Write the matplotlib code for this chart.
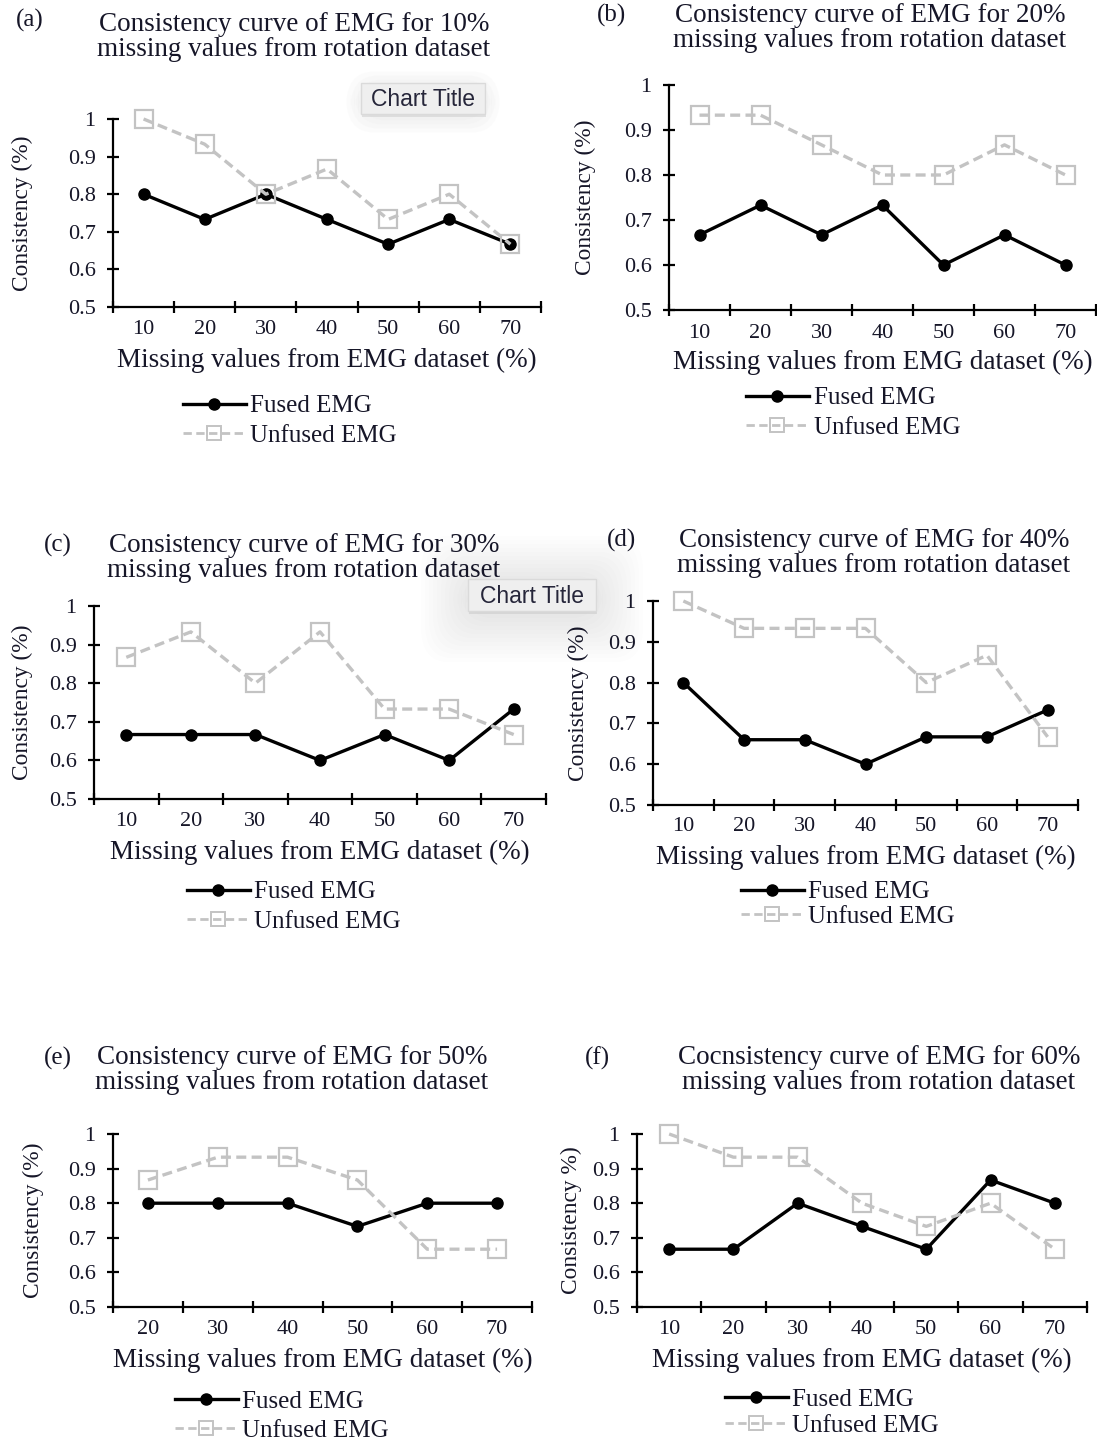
import matplotlib
matplotlib.use("Agg")
import matplotlib.pyplot as plt
from matplotlib.lines import Line2D
from matplotlib.patches import FancyBboxPatch
from matplotlib.ticker import FixedLocator, FixedFormatter

plt.rcParams["font.family"] = ["Liberation Serif", "DejaVu Serif"]

W, H = 1097, 1441
DPI = 100
TEXT = "#161628"
FUSED_C = "#000000"
UNFUSED_C = "#c3c3c3"

# ---- data -------------------------------------------------------------
panel_letters = ["(a)", "(b)", "(c)", "(d)", "(e)", "(f)"]
panel_titles = [
    "Consistency curve of EMG for 10%\nmissing values from rotation dataset",
    "Consistency curve of EMG for 20%\nmissing values from rotation dataset",
    "Consistency curve of EMG for 30%\nmissing values from rotation dataset",
    "Consistency curve of EMG for 40%\nmissing values from rotation dataset",
    "Consistency curve of EMG for 50%\nmissing values from rotation dataset",
    "Cocnsistency curve of EMG for 60%\nmissing values from rotation dataset",
]
y_labels = ["Consistency (%)"] * 5 + ["Consistency %)"]
x_label = "Missing values from EMG dataset (%)"
series_names = ["Fused EMG", "Unfused EMG"]

missing_a = ["10", "20", "30", "40", "50", "60", "70"]
fused_a = [0.80, 0.733, 0.80, 0.733, 0.667, 0.733, 0.667]
unfused_a = [1.00, 0.933, 0.80, 0.867, 0.733, 0.80, 0.667]

missing_b = ["10", "20", "30", "40", "50", "60", "70"]
fused_b = [0.667, 0.733, 0.667, 0.733, 0.60, 0.667, 0.60]
unfused_b = [0.933, 0.933, 0.867, 0.80, 0.80, 0.867, 0.80]

missing_c = ["10", "20", "30", "40", "50", "60", "70"]
fused_c = [0.667, 0.667, 0.667, 0.60, 0.667, 0.60, 0.733]
unfused_c = [0.867, 0.933, 0.80, 0.933, 0.733, 0.733, 0.667]

missing_d = ["10", "20", "30", "40", "50", "60", "70"]
fused_d = [0.80, 0.66, 0.66, 0.60, 0.667, 0.667, 0.733]
unfused_d = [1.00, 0.933, 0.933, 0.933, 0.80, 0.867, 0.667]

missing_e = ["20", "30", "40", "50", "60", "70"]
fused_e = [0.80, 0.80, 0.80, 0.733, 0.80, 0.80]
unfused_e = [0.867, 0.933, 0.933, 0.867, 0.667, 0.667]

missing_f = ["10", "20", "30", "40", "50", "60", "70"]
fused_f = [0.667, 0.667, 0.80, 0.733, 0.667, 0.867, 0.80]
unfused_f = [1.00, 0.933, 0.933, 0.80, 0.733, 0.80, 0.667]

y_ticks = [0.5, 0.6, 0.7, 0.8, 0.9, 1.0]
y_tick_labels = ["0.5", "0.6", "0.7", "0.8", "0.9", "1"]

# ---- layout (pixels) ----------------------------------------------------
# axes box: left, right, top, bottom
boxes = [
    (113, 541, 119, 307),
    (669, 1096, 85, 310),
    (94, 546, 606, 799),
    (653, 1078, 601, 805),
    (113, 532, 1134, 1307),
    (637, 1087, 1134, 1307),
]
# title centre x, centre y of the two lines ; letter x, y
title_pos = [(294, 37), (870, 28), (304, 558), (874, 553), (292, 1070), (879, 1070)]
letter_pos = [(30, 20), (611, 15), (58, 545), (622, 540), (58, 1058), (597, 1058)]
ylabel_x = [22, 585, 22, 578, 33, 571]
tick_y = [330, 333, 821, 827, 1330, 1330]
xlabel_y = [360, 362, 852, 857, 1360, 1360]
legend_pos = [(183, 405, 437), (746, 397, 429), (187, 891, 923),
              (741, 891, 918), (175, 1400, 1432), (725, 1398, 1427)]

panels = [
    (missing_a, fused_a, unfused_a),
    (missing_b, fused_b, unfused_b),
    (missing_c, fused_c, unfused_c),
    (missing_d, fused_d, unfused_d),
    (missing_e, fused_e, unfused_e),
    (missing_f, fused_f, unfused_f),
]


def fx(px):
    return px / W


def fy(py):
    return 1 - py / H


fig = plt.figure(figsize=(W / DPI, H / DPI), dpi=DPI)
fig.patch.set_facecolor("white")


def chart_title_box(cx, cy, w, h, halo_steps, halo_alpha):
    # soft halo + light grey caption box
    for i in range(halo_steps):
        grow = 3 + i * 4
        halo = FancyBboxPatch((fx(cx - w / 2 - grow), fy(cy + h / 2 + grow + 4)),
                              (w + 2 * grow) / W, (h + 2 * grow) / H,
                              boxstyle="round,pad=0,rounding_size=0.025",
                              transform=fig.transFigure, facecolor="#9a9a9a",
                              edgecolor="none", alpha=halo_alpha, zorder=0)
        fig.add_artist(halo)
    shadow = FancyBboxPatch((fx(cx - w / 2 + 1), fy(cy + h / 2 + 3)), w / W, h / H,
                            boxstyle="square,pad=0", transform=fig.transFigure,
                            facecolor="#b8b8b8", edgecolor="none", alpha=0.35,
                            zorder=1)
    fig.add_artist(shadow)
    box = FancyBboxPatch((fx(cx - w / 2), fy(cy + h / 2)), w / W, h / H,
                         boxstyle="square,pad=0", transform=fig.transFigure,
                         facecolor="#efefef", edgecolor="#dadada", lw=1.0,
                         zorder=2)
    fig.add_artist(box)
    fig.text(fx(cx), fy(cy + 1), "Chart Title", ha="center", va="center",
             family=["Liberation Sans", "DejaVu Sans"], fontsize=16.5,
             color="#26263a", zorder=3)


for i, (cats, fused, unfused) in enumerate(panels):
    l, r, t, b = boxes[i]
    ax = fig.add_axes([fx(l), fy(b), (r - l) / W, (b - t) / H])
    ax.set_facecolor("none")
    n = len(cats)
    pos = list(range(1, n + 1))

    ax.plot(pos, fused, color=FUSED_C, lw=2.4, marker="o", ms=8,
            mfc=FUSED_C, mec=FUSED_C, zorder=3, clip_on=False,
            label=series_names[0])
    ax.plot(pos, unfused, color=UNFUSED_C, lw=2.4, ls=(0, (3, 1.6)),
            marker="s", ms=13, mfc="none", mec=UNFUSED_C, mew=1.6,
            zorder=4, clip_on=False, label=series_names[1])

    ax.set_xlim(0.5, n + 0.5)
    ax.set_ylim(0.5, 1.0)
    for s in ("top", "right"):
        ax.spines[s].set_visible(False)
    for s in ("left", "bottom"):
        ax.spines[s].set_linewidth(1.6)
        ax.spines[s].set_color("black")

    # category boundaries carry the tick marks, labels sit at the centres
    ax.xaxis.set_major_locator(FixedLocator([k + 0.5 for k in range(0, n + 1)]))
    ax.xaxis.set_major_formatter(FixedFormatter([""] * (n + 1)))
    ax.xaxis.set_minor_locator(FixedLocator(pos))
    ax.xaxis.set_minor_formatter(FixedFormatter(cats))
    ax.tick_params(axis="x", which="major", direction="inout", length=9,
                   width=1.6, color="black")
    ax.tick_params(axis="x", which="minor", length=0, labelsize=16,
                   labelcolor=TEXT)
    ax.yaxis.set_major_locator(FixedLocator(y_ticks))
    ax.yaxis.set_major_formatter(FixedFormatter(y_tick_labels))
    ax.tick_params(axis="y", direction="inout", length=9, width=1.6,
                   color="black", labelsize=16, labelcolor=TEXT, pad=8)
    for lab in ax.xaxis.get_minorticklabels():
        lab.set_verticalalignment("center")
    ax.tick_params(axis="x", which="minor", pad=(tick_y[i] - b) * 72 / DPI)

    ax.set_xlabel(x_label, fontsize=19.5, color=TEXT, va="center")
    ax.xaxis.set_label_coords(0.5, (b - xlabel_y[i]) / (b - t))
    ax.set_ylabel(y_labels[i], fontsize=16.8, color=TEXT, va="center")
    ax.yaxis.set_label_coords((ylabel_x[i] - l) / (r - l), 0.5)

    cx, ty = title_pos[i]
    fig.text(fx(cx), fy(ty), panel_titles[i], ha="center", va="center",
             fontsize=19.5, color=TEXT, linespacing=1.0)
    lx, ly = letter_pos[i]
    fig.text(fx(lx), fy(ly), panel_letters[i], ha="center", va="center",
             fontsize=18, color=TEXT)

    lgx, ly1, ly2 = legend_pos[i]
    handles = [
        Line2D([], [], color=FUSED_C, lw=2.4, marker="o", ms=8),
        Line2D([], [], color=UNFUSED_C, lw=2.0, ls=(0, (3, 1.6)), marker="s",
               ms=10, mfc="none", mec=UNFUSED_C, mew=1.4),
    ]
    leg = fig.legend(handles, series_names, loc="center left",
                     bbox_to_anchor=(fx(lgx), fy((ly1 + ly2) / 2)),
                     bbox_transform=fig.transFigure, frameon=False,
                     fontsize=18, handlelength=2.5, handletextpad=0.2,
                     borderpad=0, borderaxespad=0,
                     labelspacing=(ly2 - ly1 - 25) / 25, numpoints=1)
    for txt in leg.get_texts():
        txt.set_color(TEXT)

chart_title_box(423, 98, 124, 31, 4, 0.03)
chart_title_box(532, 595, 128, 32, 12, 0.018)

fig.savefig("out.png", dpi=DPI, facecolor="white")
